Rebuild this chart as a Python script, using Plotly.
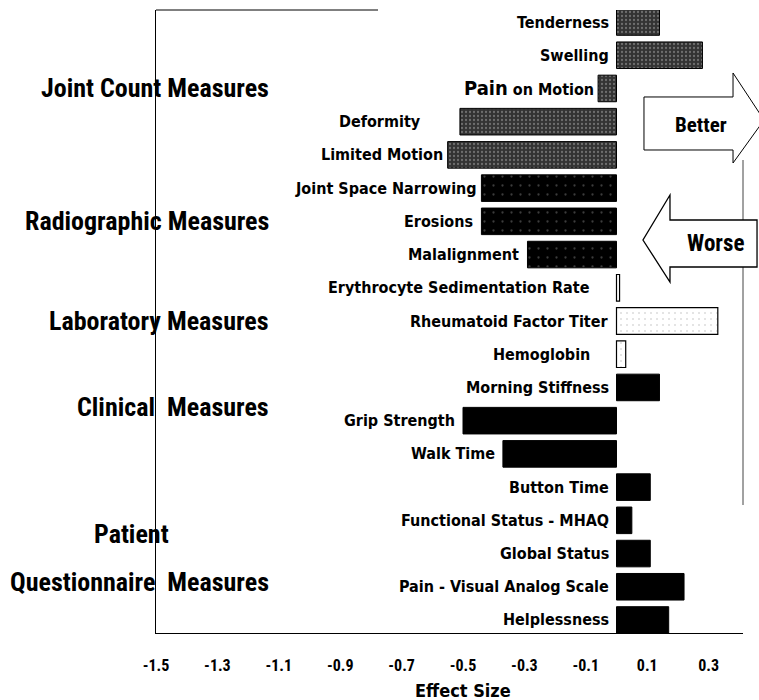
import plotly.graph_objects as go

# ---------------- data ----------------
joint_labels = ["Tenderness", "Swelling", "Pain on Motion", "Deformity", "Limited Motion"]
joint_values = [0.14, 0.28, -0.06, -0.51, -0.55]

radio_labels = ["Joint Space Narrowing", "Erosions", "Malalignment"]
radio_values = [-0.44, -0.44, -0.29]

lab_labels = ["Erythrocyte Sedimentation Rate", "Rheumatoid Factor Titer", "Hemoglobin"]
lab_values = [0.01, 0.33, 0.03]

clin_labels = ["Morning Stiffness", "Grip Strength", "Walk Time"]
clin_values = [0.14, -0.50, -0.37]

pat_labels = ["Button Time", "Functional Status - MHAQ", "Global Status",
              "Pain - Visual Analog Scale", "Helplessness"]
pat_values = [0.11, 0.05, 0.11, 0.22, 0.17]

group_names = ["Joint Count Measures", "Radiographic Measures", "Laboratory Measures",
               "Clinical&nbsp;&nbsp;Measures", "Patient", "Questionnaire&nbsp;&nbsp;Measures"]

tick_vals = [-1.5, -1.3, -1.1, -0.9, -0.7, -0.5, -0.3, -0.1, 0.1, 0.3]
tick_text = ["-1.5", "-1.3", "-1.1", "-0.9", "-0.7", "-0.5", "-0.3", "-0.1", "0.1", "0.3"]

# ---------------- layout constants ----------------
W, H = 759, 700
L, R, T, B = 156, 16, 10, 67
PW, PH = W - L - R, H - T - B

def px(x):
    return (x - L) / PW

def py(y):
    return (H - B - y) / PH

LABEL_FONT = "DejaVu Sans Condensed, Liberation Sans Narrow, DejaVu Sans"
NARROW_FONT = "Liberation Sans Narrow, Arial Narrow, Roboto Condensed, Liberation Sans"

groups = [
    (joint_labels, joint_values, dict(color="#333333", line=dict(color="black", width=1),
                                      pattern=dict(shape=".", fgcolor="#aaaaaa", size=4, solidity=0.25))),
    (radio_labels, radio_values, dict(color="black", line=dict(color="black", width=1),
                                      pattern=dict(shape=".", fgcolor="#777777", size=9, solidity=0.05))),
    (lab_labels, lab_values, dict(color="white", line=dict(color="black", width=1.2),
                                  pattern=dict(shape=".", fgcolor="#bbbbbb", size=6, solidity=0.1))),
    (clin_labels, clin_values, dict(color="black", line=dict(color="black", width=1))),
    (pat_labels, pat_values, dict(color="black", line=dict(color="black", width=1))),
]

fig = go.Figure()
annotations = []
label_gap = {"Deformity": -37, "Erythrocyte Sedimentation Rate": -25, "Hemoglobin": -25,
             "Joint Space Narrowing": -2, "Limited Motion": -3, "Pain on Motion": -2}

idx = 0
for labels, values, marker in groups:
    ys = list(range(idx, idx + len(labels)))
    fig.add_trace(go.Bar(x=values, y=ys, orientation="h", width=0.8, marker=marker,
                         showlegend=False, hoverinfo="skip"))
    for lab, v, yy in zip(labels, values, ys):
        text = lab
        if lab == "Pain on Motion":
            text = "<span style='font-size:20px'>Pain</span> on Motion"
        annotations.append(dict(x=min(v, 0), y=yy, xref="x", yref="y", text="<b>" + text + "</b>",
                                showarrow=False, xanchor="right", yanchor="middle",
                                xshift=label_gap.get(lab, -6),
                                font=dict(family=LABEL_FONT, size=16, color="black")))
    idx += len(labels)

# group labels
group_y = [2, 6, 9, 11.6, 15.4, 16.85]
for name, gy in zip(group_names, group_y):
    if name == "Patient":
        annotations.append(dict(x=px(131), y=gy, xref="paper", yref="y", text="<b>" + name + "</b>",
                                showarrow=False, xanchor="center", yanchor="middle",
                                font=dict(family=NARROW_FONT, size=26, color="black")))
    else:
        annotations.append(dict(x=px(271), y=gy, xref="paper", yref="y", text="<b>" + name + "</b>",
                                showarrow=False, xanchor="right", yanchor="middle",
                                font=dict(family=NARROW_FONT, size=26, color="black")))

# arrows
better = [(644, 97), (733, 97), (733, 73), (764, 120), (733, 163), (733, 150), (644, 150)]
worse = [(757, 220), (670, 220), (670, 195), (643, 240), (670, 282), (670, 267), (757, 267)]

def path(pts):
    return "M " + " L ".join(f"{px(x):.4f},{py(y):.4f}" for x, y in pts) + " Z"

shapes = [
    dict(type="line", xref="paper", yref="paper", x0=0, x1=px(378), y0=py(10), y1=py(10),
         line=dict(color="black", width=1)),
    dict(type="line", xref="paper", yref="paper", x0=px(743), x1=px(743), y0=py(160), y1=py(505),
         line=dict(color="#444", width=1)),
    dict(type="path", xref="paper", yref="paper", path=path(better),
         fillcolor="white", line=dict(color="black", width=1)),
    dict(type="path", xref="paper", yref="paper", path=path(worse),
         fillcolor="white", line=dict(color="black", width=1.3)),
]
annotations.append(dict(x=px(701), y=py(125), xref="paper", yref="paper", text="<b>Better</b>",
                        showarrow=False, xanchor="center", yanchor="middle",
                        font=dict(family=NARROW_FONT, size=21, color="black")))
annotations.append(dict(x=px(715), y=py(243), xref="paper", yref="paper", text="<b>Worse</b>",
                        showarrow=False, xanchor="center", yanchor="middle",
                        font=dict(family=NARROW_FONT, size=23, color="black")))
annotations.append(dict(x=-0.5, y=py(690), xref="x", yref="paper", text="<b>Effect Size</b>",
                        showarrow=False, xanchor="center", yanchor="middle",
                        font=dict(family=LABEL_FONT, size=18, color="black")))

fig.update_layout(
    width=W, height=H,
    margin=dict(l=L, r=R, t=T, b=B),
    paper_bgcolor="white", plot_bgcolor="white",
    barmode="overlay",
    shapes=shapes, annotations=annotations,
    xaxis=dict(range=[-1.5, -1.5 + PW / 307], tickvals=tick_vals, ticktext=tick_text,
               showgrid=False, zeroline=False, showline=True, linecolor="black", linewidth=1,
               ticks="", ticklabelstandoff=18,
               tickfont=dict(family=NARROW_FONT, size=16, color="black", weight="bold")),
    yaxis=dict(range=[18 + 13 / 33.2, -12 / 33.2], showticklabels=False, showgrid=False,
               zeroline=False, showline=True, linecolor="black", linewidth=1, ticks=""),
)

fig.write_html("out.html", config={"displayModeBar": False},
               post_script="document.body.style.margin='0';")
